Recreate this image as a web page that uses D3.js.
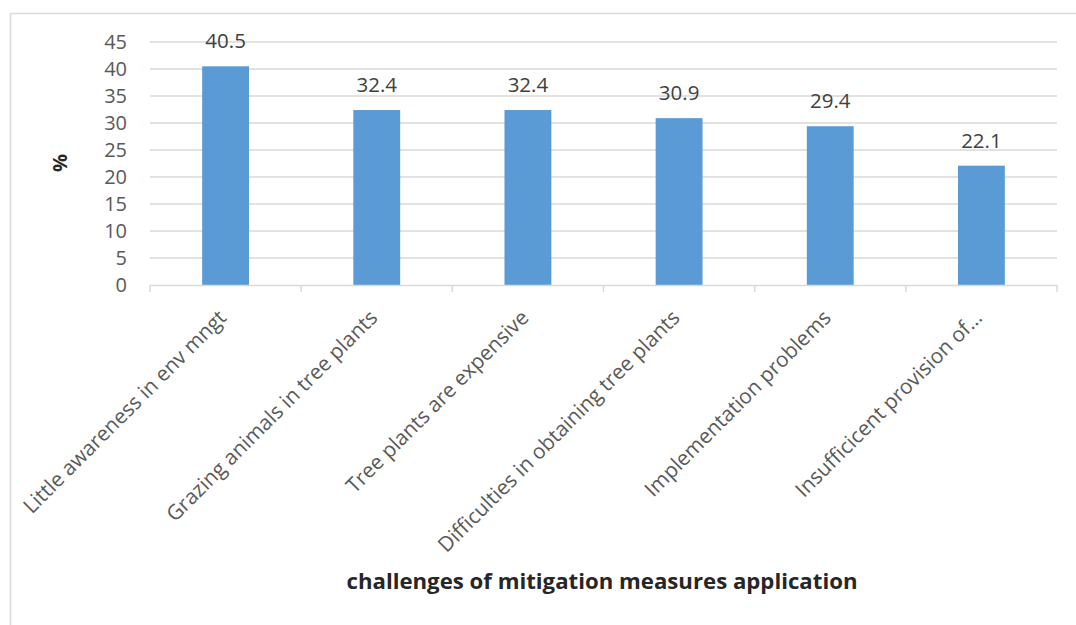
<!DOCTYPE html>
<html><head><meta charset="utf-8">
<script src="https://cdn.jsdelivr.net/npm/d3@7"></script>
<style>body{margin:0;background:#fff;} svg{display:block;font-family:"Open Sans",sans-serif;}</style>
</head><body>
<svg id="c" width="1076" height="625"></svg>
<script>
const categories = ["Little awareness in env mngt","Grazing animals in tree plants","Tree plants are expensive","Difficulties in obtaining tree plants","Implementation problems","Insufficicent provision of…"];
const values = [40.5, 32.4, 32.4, 30.9, 29.4, 22.1];
const yTicks = [0,5,10,15,20,25,30,35,40,45];
const xTitle = "challenges of mitigation measures application";
const yTitle = "%";

const svg = d3.select("#c");
const textCol = "#595959";
svg.append("rect").attr("x",10.5).attr("y",13.5).attr("width",1100).attr("height",700)
  .attr("fill","none").attr("stroke","#d9d9d9").attr("stroke-width",1.5);

const x = d3.scaleBand().domain(categories).range([150,1057]).paddingInner(0.69).paddingOuter(0.345);
const xb = d3.scaleBand().domain(categories).range([150,1057]);
const y = d3.scaleLinear().domain([0,45]).range([285,42]);

// gridlines
svg.append("g").selectAll("line").data(yTicks.filter(d=>d>0)).join("line")
  .attr("x1",150).attr("x2",1057).attr("y1",d=>y(d)).attr("y2",d=>y(d))
  .attr("stroke","#d9d9d9").attr("stroke-width",1.5);

// y axis labels
const ya = svg.append("g").attr("transform","translate(150,0)")
  .call(d3.axisLeft(y).tickValues(yTicks).tickSize(0).tickPadding(23));
ya.select(".domain").remove();
ya.selectAll("text").attr("fill",textCol).style("font-size","20px").style("font-family","'Open Sans',sans-serif");

// bars
svg.append("g").selectAll("rect").data(values).join("rect")
  .attr("x",(d,i)=>x(categories[i])).attr("width",x.bandwidth())
  .attr("y",d=>y(d)).attr("height",d=>y(0)-y(d)).attr("fill","#5b9bd5");

// x axis line and ticks
svg.append("line").attr("x1",150).attr("x2",1057).attr("y1",285.5).attr("y2",285.5).attr("stroke","#d9d9d9").attr("stroke-width",1.5);
const edges = categories.map(c=>xb(c)).concat([1057]);
svg.append("g").selectAll("line").data(edges).join("line")
  .attr("x1",d=>d).attr("x2",d=>d).attr("y1",285).attr("y2",292).attr("stroke","#d9d9d9").attr("stroke-width",1.5);

// category labels
svg.append("g").selectAll("text").data(categories).join("text")
  .attr("transform",c=>`translate(${xb(c)+xb.bandwidth()/2+2},${319}) rotate(-45)`)
  .attr("text-anchor","end").attr("fill",textCol).style("font-size","20.8px").text(c=>c);

// data labels
svg.append("g").selectAll("text").data(values).join("text")
  .attr("x",(d,i)=>x(categories[i])+x.bandwidth()/2).attr("y",d=>y(d)-18)
  .attr("text-anchor","middle").attr("fill","#404040").style("font-size","20.5px").text(d=>d.toFixed(1));

// titles
svg.append("text").attr("x",602).attr("y",589).attr("text-anchor","middle")
  .attr("fill","#262626").style("font-size","22.2px").style("font-weight","bold").text(xTitle);
svg.append("text").attr("transform","translate(67,163) rotate(-90)").attr("text-anchor","middle")
  .attr("fill","#262626").style("font-size","20px").style("font-weight","bold").text(yTitle);
</script>
</body></html>
